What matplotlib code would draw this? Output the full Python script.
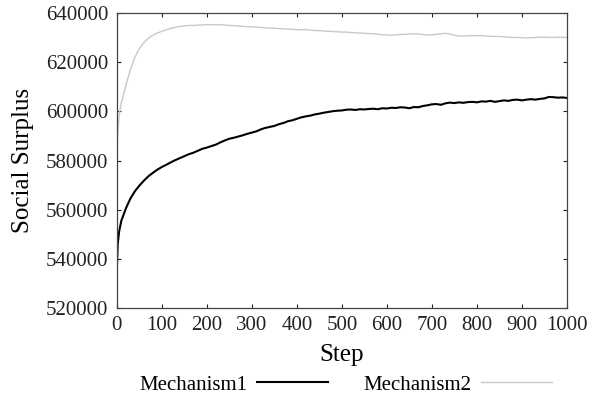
import numpy as np
import matplotlib
matplotlib.use("Agg")
from matplotlib import pyplot as plt

plt.rcParams['font.family'] = ['Liberation Serif', 'DejaVu Serif']

steps = [0, 2, 5] + list(range(10, 1001, 10))

mech1 = [535500, 546000, 551000,
         555500, 560500, 564500, 567500, 569800, 571800, 573600, 575000, 576300, 577400,
         578300, 579300, 580200, 581000, 581800, 582600, 583200, 584000, 584800, 585300,
         585900, 586500, 587400, 588200, 588900, 589300, 589800, 590300, 590900, 591400,
         591900, 592700, 593300, 593700, 594100, 594800, 595300, 596000, 596400, 597000,
         597600, 598000, 598300, 598800, 599100, 599500, 599800, 600100, 600300, 600400,
         600700, 600800, 600600, 600900, 600800, 601000, 601100, 600900, 601300, 601200,
         601500, 601400, 601700, 601600, 601300, 601800, 601700, 602200, 602500, 602900,
         603000, 602700, 603300, 603600, 603400, 603700, 603500, 603800, 603900, 603700,
         604100, 604000, 604300, 603900, 604200, 604500, 604300, 604700, 604800, 604500,
         604800, 605000, 604800, 605100, 605300, 605900, 605800, 605600, 605700, 605500]

mech2 = [581000, 591000, 598500,
         603500, 610500, 617000, 622000, 625500, 628000, 629800, 631000, 631900, 632600,
         633200, 633800, 634200, 634600, 634800, 635000, 635000, 635100, 635200, 635300,
         635300, 635250, 635300, 635100, 635000, 634900, 634800, 634600, 634500, 634400,
         634300, 634200, 634000, 633900, 633900, 633700, 633600, 633500, 633400, 633300,
         633200, 633300, 633100, 632900, 632900, 632700, 632600, 632500, 632400, 632300,
         632300, 632100, 632000, 631900, 631800, 631700, 631600, 631400, 631200, 631100,
         631000, 631200, 631300, 631400, 631500, 631600, 631500, 631300, 631100, 631200,
         631400, 631600, 631800, 631500, 631000, 630700, 630700, 630800, 630900, 630800,
         630900, 630700, 630600, 630500, 630500, 630400, 630200, 630100, 630100, 630000,
         629900, 630000, 630100, 630200, 630200, 630100, 630100, 630200, 630100, 630100]

fig = plt.figure(figsize=(5.93, 3.98), dpi=100)
ax = fig.add_axes([0.197, 0.226, 0.759, 0.741])

ax.plot(steps, mech1, color='black', lw=1.5, label='Mechanism1')
ax.plot(steps, mech2, color='#c8c8c8', lw=1.0, label='Mechanism2')

ax.set_xlim(0, 1000)
ax.set_ylim(520000, 640000)
ax.set_xticks(range(0, 1001, 100))
ax.set_yticks(range(520000, 640001, 20000))
ax.tick_params(direction='in', length=3, width=0.8, top=True, right=True,
               labelsize=15, colors='#222222')
ax.tick_params(axis='x', pad=6)
ax.tick_params(axis='y', pad=6)
for s in ax.spines.values():
    s.set_linewidth(0.9)
    s.set_color('#444444')

ax.set_xlabel('Step', fontsize=18, va='center')
ax.set_ylabel('Social Surplus', fontsize=18, va='center')
ax.xaxis.set_label_coords(0.5, -0.159)
ax.yaxis.set_label_coords(-0.209, 0.5)

fig.legend(loc='center', bbox_to_anchor=(0.583, 0.033), ncol=2, frameon=False,
           markerfirst=False, fontsize=15, handlelength=3.4, columnspacing=1.7,
           handletextpad=0.45)

fig.savefig('out.png', dpi=100)
